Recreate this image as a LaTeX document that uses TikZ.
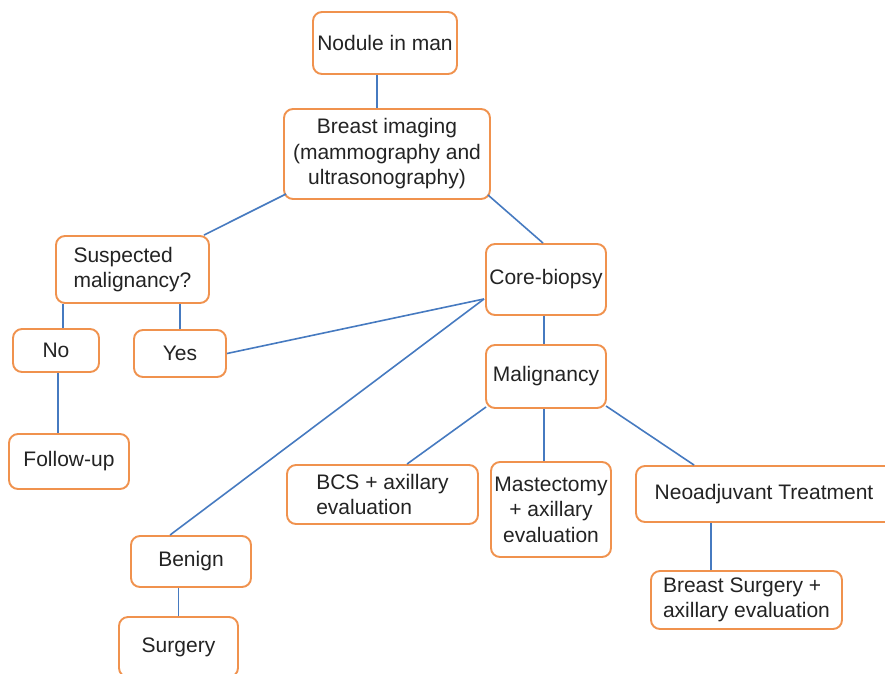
\documentclass[tikz,border=0pt]{standalone}
\usepackage{fontspec}
\setmainfont{Liberation Sans}
\usetikzlibrary{calc}
\definecolor{boxorange}{RGB}{240,146,78}
\definecolor{linkblue}{RGB}{70,122,192}
\definecolor{txtgray}{RGB}{35,35,35}
\begin{document}
\begin{tikzpicture}[x=1pt,y=-1pt,
  box/.style={draw=boxorange,line width=1.9pt,rounded corners=9pt,fill=white,
    inner sep=0pt,text=txtgray,font=\fontsize{21}{25.5}\selectfont},
  link/.style={draw=linkblue,line width=1.6pt}]
\useasboundingbox (0,0) rectangle (885,673);
\clip (0,0) rectangle (885,673);
% nodes
\node[box,minimum width=144pt,minimum height=62pt] (nodule) at (385,43) {Nodule in man};
\node[box,minimum width=206pt,minimum height=90pt,align=center] (imaging) at (387,154) {Breast imaging\\(mammography and\\ultrasonography)};
\node[box,minimum width=153pt,minimum height=67pt,align=left] (suspect) at (132.5,269.5) {Suspected\\malignancy?};
\node[box,minimum width=86pt,minimum height=43pt] (no) at (56,350.5) {No};
\node[box,minimum width=92pt,minimum height=47pt] (yes) at (180,353.5) {Yes};
\node[box,minimum width=120pt,minimum height=55pt] (follow) at (69,461.5) {Follow-up};
\node[box,minimum width=120pt,minimum height=71pt] (core) at (546,279.5) {Core-biopsy};
\node[box,minimum width=120pt,minimum height=63pt] (malig) at (546,376.5) {Malignancy};
\node[box,minimum width=191pt,minimum height=59pt,align=left] (bcs) at (382.5,494.5) {BCS + axillary\\evaluation};
\node[box,minimum width=120pt,minimum height=95pt,align=center] (mast) at (551,509.5) {Mastectomy\\+ axillary\\evaluation};
\node[box,minimum width=300pt,minimum height=56pt] (neo) at (786,494) {Neoadjuvant Treatment\hspace*{44pt}};
\node[box,minimum width=191pt,minimum height=58pt,align=left] (bsurg) at (746.5,600) {Breast Surgery +\\axillary evaluation};
\node[box,minimum width=120pt,minimum height=51pt] (benign) at (191,561.5) {Benign};
\node[box,minimum width=119pt,minimum height=60pt] (surgery) at (178.5,647) {Surgery};
% connectors
\draw[link] ([xshift=-8pt]nodule.south) -- ([xshift=-10pt]imaging.north);
\draw[link] ([shift={(3,-6)}]imaging.south west) -- ([xshift=-6pt]suspect.north east);
\draw[link] ([shift={(-3,-5)}]imaging.south east) -- ([xshift=-3pt]core.north);
\draw[link] ([xshift=7pt]no.north) -- ([xshift=7pt]no.north |- suspect.south);
\draw[link] (yes.north) -- (yes.north |- suspect.south);
\draw[link] ([xshift=2pt]no.south) -- ([xshift=2pt]no.south |- follow.north);
\draw[link] ([shift={(-1,-17)}]core.south west) -- (yes.east);
\draw[link] ([shift={(-1,-17)}]core.south west) -- ([xshift=-21pt]benign.north);
\draw[link] ([xshift=-2pt]core.south) -- ([xshift=-2pt]malig.north);
\draw[link] ([shift={(1,-2)}]malig.south west) -- ([xshift=24.5pt]bcs.north);
\draw[link] ([xshift=-2pt]malig.south) -- ([xshift=-2pt]malig.south |- mast.north);
\draw[link] ([shift={(-1,-3)}]malig.south east) -- ([xshift=59pt]neo.north west);
\draw[link] ([xshift=-35.5pt]bsurg.north) -- ([xshift=-35.5pt]bsurg.north |- neo.south);
\draw[link] (surgery.north) -- (surgery.north |- benign.south);
\end{tikzpicture}
\end{document}
